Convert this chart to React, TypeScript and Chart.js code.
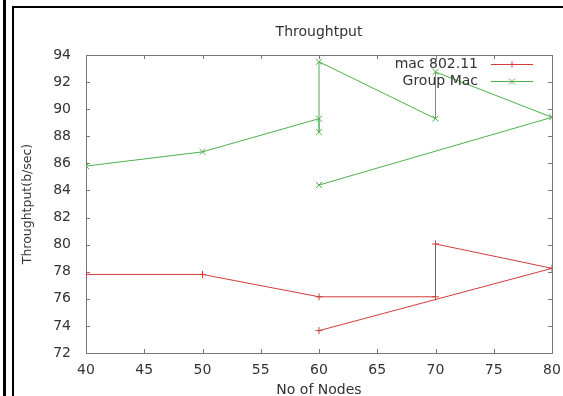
import React, { useEffect, useRef } from 'react';
import { Chart, registerables } from 'chart.js';

Chart.register(...registerables);

const chartTitle = 'Throughtput';
const xTitle = 'No of Nodes';
const yTitle = 'Throughtput(b/sec)';
const seriesNames = ['mac 802.11', 'Group Mac'];
const seriesColors = ['#d23c3c', '#4cb04c'];
const seriesMarkers = ['cross', 'crossRot'];

const macX = [40, 50, 60, 70, 70, 80, 60];
const macY = [77.8, 77.8, 76.15, 76.15, 80.05, 78.25, 73.65];
const groupX = [40, 50, 60, 60, 60, 70, 70, 80, 60];
const groupY = [85.8, 86.85, 89.3, 88.3, 93.5, 89.3, 92.75, 89.4, 84.4];

const xTickValues = [40, 45, 50, 55, 60, 65, 70, 75, 80];
const yTickValues = [72, 74, 76, 78, 80, 82, 84, 86, 88, 90, 92, 94];

const FONT = '"DejaVu Sans", sans-serif';
const TEXT = '#333333';

function drawMarker(ctx: CanvasRenderingContext2D, style: string, x: number, y: number) {
  ctx.beginPath();
  if (style === 'cross') {
    ctx.moveTo(x - 3, y); ctx.lineTo(x + 3, y);
    ctx.moveTo(x, y - 3); ctx.lineTo(x, y + 3);
  } else {
    ctx.moveTo(x - 3, y - 3); ctx.lineTo(x + 3, y + 3);
    ctx.moveTo(x - 3, y + 3); ctx.lineTo(x + 3, y - 3);
  }
  ctx.stroke();
}

const gnuplotPlugin = {
  id: 'gnuplotDeco',
  beforeDatasetsDraw(chart: any) {
    const { ctx, chartArea: a, scales } = chart;
    ctx.save();
    ctx.strokeStyle = '#777777';
    ctx.lineWidth = 1;
    ctx.strokeRect(a.left + 0.5, a.top + 0.5, a.right - a.left, a.bottom - a.top);
    const tl = 4;
    ctx.beginPath();
    xTickValues.forEach((v) => {
      const px = Math.round(scales.x.getPixelForValue(v)) + 0.5;
      ctx.moveTo(px, a.bottom); ctx.lineTo(px, a.bottom - tl);
      ctx.moveTo(px, a.top); ctx.lineTo(px, a.top + tl);
    });
    yTickValues.forEach((v) => {
      const py = Math.round(scales.y.getPixelForValue(v)) + 0.5;
      ctx.moveTo(a.left, py); ctx.lineTo(a.left + tl, py);
      ctx.moveTo(a.right, py); ctx.lineTo(a.right - tl, py);
    });
    ctx.stroke();

    ctx.fillStyle = TEXT;
    ctx.textAlign = 'center';
    ctx.textBaseline = 'middle';
    ctx.font = `14px ${FONT}`;
    const cx = (a.left + a.right) / 2;
    ctx.fillText(chartTitle, cx, 32);
    ctx.fillText(xTitle, cx, 390);
    ctx.save();
    ctx.translate(28, (a.top + a.bottom) / 2);
    ctx.rotate(-Math.PI / 2);
    ctx.font = `12.5px ${FONT}`;
    ctx.fillText(yTitle, 0, 0);
    ctx.restore();
    ctx.restore();
  },
  afterDatasetsDraw(chart: any) {
    const { ctx } = chart;
    ctx.save();
    ctx.font = `14px ${FONT}`;
    ctx.textAlign = 'right';
    ctx.textBaseline = 'middle';
    chart.data.datasets.forEach((ds: any, i: number) => {
      const y = 64 + i * 17;
      ctx.fillStyle = TEXT;
      ctx.fillText(ds.label, 478, y);
      ctx.strokeStyle = ds.borderColor;
      ctx.lineWidth = 1;
      ctx.beginPath();
      ctx.moveTo(491, y + 0.5); ctx.lineTo(533, y + 0.5);
      ctx.stroke();
      drawMarker(ctx, seriesMarkers[i], 512, y + 0.5);
    });
    ctx.restore();
  },
};

export default function App() {
  const ref = useRef<HTMLCanvasElement>(null);
  useEffect(() => {
    if (!ref.current) return;
    const mk = (xs: number[], ys: number[]) => xs.map((x, i) => ({ x, y: ys[i] }));
    const series = [mk(macX, macY), mk(groupX, groupY)];
    const chart = new Chart(ref.current, {
      type: 'scatter',
      data: {
        datasets: series.map((d, i) => ({
          label: seriesNames[i],
          data: d,
          showLine: true,
          borderColor: seriesColors[i],
          backgroundColor: seriesColors[i],
          borderWidth: 1,
          pointStyle: seriesMarkers[i] as any,
          pointRadius: i === 0 ? 3.5 : 4.2,
          pointBorderWidth: 1,
          pointBorderColor: seriesColors[i],
          tension: 0,
        })),
      },
      options: {
        responsive: false,
        animation: false,
        layout: { padding: { left: 0, right: 11, top: 55, bottom: 0 } },
        plugins: { legend: { display: false }, title: { display: false }, tooltip: { enabled: false } },
        scales: {
          x: {
            type: 'linear',
            min: xTickValues[0],
            max: xTickValues[xTickValues.length - 1],
            grid: { display: false, drawTicks: false },
            border: { display: false },
            ticks: { stepSize: 5, padding: 9, color: TEXT, font: { family: FONT, size: 14 }, maxRotation: 0 },
            afterFit: (s: any) => { s.height = 43; s.paddingLeft = 0; s.paddingRight = 0; },
          },
          y: {
            type: 'linear',
            min: yTickValues[0],
            max: yTickValues[yTickValues.length - 1],
            grid: { display: false, drawTicks: false },
            border: { display: false },
            ticks: { stepSize: 2, padding: 15, color: TEXT, font: { family: FONT, size: 14 } },
            afterFit: (s: any) => { s.width = 86; s.paddingTop = 0; s.paddingBottom = 0; },
          },
        },
      },
      plugins: [gnuplotPlugin],
    });
    return () => chart.destroy();
  }, []);

  const bar = (l: number, t: number, w: number, h: number): React.CSSProperties => ({
    position: 'absolute', left: l, top: t, width: w, height: h, background: '#000',
  });

  return (
    <div style={{ position: 'fixed', left: 0, top: 0, width: 563, height: 396, background: '#fff', overflow: 'hidden' }}>
      <div style={bar(3, 0, 3, 396)} />
      <div style={bar(12, 6, 2, 390)} />
      <div style={bar(12, 6, 551, 2)} />
      <canvas ref={ref} width={563} height={396} style={{ position: 'absolute', left: 0, top: 0 }} />
    </div>
  );
}
